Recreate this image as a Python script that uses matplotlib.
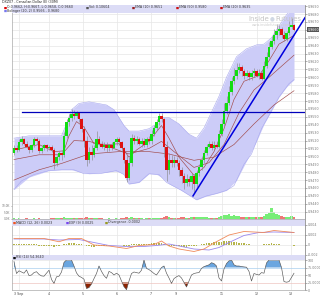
import matplotlib
matplotlib.use("Agg")
import matplotlib.pyplot as plt  # noqa: E402
import matplotlib.transforms as mtransforms  # noqa: E402
from matplotlib.patches import Rectangle  # noqa: E402
import numpy as np  # noqa: E402

# ---- data (prices in 1/10000, i.e. 9511 = 0.9511) ----
opens = [9504, 9511, 9508, 9518, 9522, 9516, 9512, 9508, 9514, 9522,
         9519, 9507, 9511, 9514, 9511, 9512, 9508, 9492, 9499, 9504,
         9502, 9526, 9543, 9549, 9553, 9551, 9555, 9547, 9535, 9519,
         9496, 9506, 9502, 9511, 9522, 9516, 9512, 9515, 9510, 9514,
         9511, 9518, 9522, 9518, 9510, 9496, 9472, 9492, 9523, 9519,
         9522, 9516, 9520, 9515, 9522, 9519, 9528, 9536, 9543, 9551,
         9547, 9512, 9483, 9495, 9491, 9496, 9492, 9483, 9475, 9466,
         9471, 9467, 9475, 9465, 9479, 9486, 9496, 9504, 9512, 9516,
         9511, 9515, 9512, 9528, 9541, 9557, 9568, 9581, 9595, 9602,
         9609, 9613, 9608, 9602, 9605, 9600, 9605, 9608, 9602, 9606,
         9598, 9614, 9626, 9638, 9646, 9653, 9658, 9661, 9653, 9649,
         9656, 9663, 9666]
closes = [9511, 9508, 9518, 9522, 9516, 9512, 9508, 9514, 9522, 9519,
          9507, 9511, 9514, 9511, 9512, 9508, 9492, 9499, 9504, 9502,
          9526, 9543, 9549, 9553, 9551, 9555, 9547, 9535, 9519, 9496,
          9506, 9502, 9511, 9522, 9516, 9512, 9515, 9510, 9514, 9511,
          9518, 9522, 9518, 9510, 9496, 9472, 9492, 9523, 9519, 9522,
          9516, 9520, 9515, 9522, 9519, 9528, 9536, 9543, 9551, 9547,
          9512, 9483, 9495, 9491, 9496, 9492, 9483, 9475, 9466, 9471,
          9467, 9475, 9465, 9479, 9486, 9496, 9504, 9512, 9516, 9511,
          9515, 9512, 9528, 9541, 9557, 9568, 9581, 9595, 9602, 9609,
          9613, 9608, 9602, 9605, 9600, 9605, 9608, 9602, 9606, 9598,
          9614, 9626, 9638, 9646, 9653, 9658, 9661, 9653, 9649, 9656,
          9663, 9666, 9660]
highs = [9515, 9514, 9522, 9526, 9523, 9519, 9515, 9516, 9524, 9524,
         9522, 9514, 9516, 9516, 9515, 9515, 9510, 9502, 9507, 9508,
         9531, 9547, 9553, 9560, 9559, 9557, 9556, 9549, 9538, 9526,
         9512, 9515, 9515, 9532, 9526, 9520, 9518, 9518, 9516, 9518,
         9520, 9524, 9524, 9520, 9512, 9502, 9499, 9528, 9527, 9526,
         9524, 9523, 9523, 9524, 9526, 9533, 9540, 9547, 9555, 9555,
         9549, 9519, 9504, 9502, 9500, 9499, 9495, 9487, 9479, 9478,
         9475, 9479, 9478, 9483, 9490, 9500, 9508, 9516, 9520, 9519,
         9519, 9519, 9533, 9547, 9568, 9576, 9589, 9600, 9612, 9618,
         9618, 9616, 9610, 9609, 9608, 9609, 9612, 9610, 9610, 9609,
         9621, 9632, 9645, 9652, 9661, 9667, 9666, 9663, 9658, 9658,
         9671, 9675, 9668]
lows = [9502, 9506, 9507, 9515, 9514, 9510, 9504, 9506, 9512, 9516,
        9504, 9504, 9508, 9507, 9508, 9506, 9484, 9488, 9495, 9495,
        9499, 9523, 9539, 9545, 9547, 9548, 9544, 9531, 9512, 9488,
        9492, 9496, 9499, 9508, 9514, 9510, 9508, 9506, 9507, 9508,
        9510, 9515, 9514, 9506, 9492, 9467, 9470, 9488, 9516, 9516,
        9514, 9512, 9512, 9512, 9516, 9516, 9526, 9533, 9540, 9543,
        9499, 9469, 9478, 9486, 9487, 9488, 9475, 9466, 9459, 9462,
        9462, 9459, 9455, 9461, 9475, 9483, 9492, 9502, 9510, 9508,
        9508, 9510, 9510, 9526, 9539, 9553, 9565, 9577, 9592, 9598,
        9605, 9602, 9598, 9600, 9597, 9597, 9601, 9600, 9598, 9596,
        9596, 9612, 9624, 9636, 9642, 9649, 9654, 9650, 9646, 9646,
        9653, 9661, 9658]
volume_k = [0.4, 0.3, 0.5, 0.3, 0.2, 0.4, 0.3, 0.3, 0.5, 0.3, 0.6, 0.3, 0.2, 0.3, 0.2, 0.4,
            1.0, 0.6, 0.4, 0.5, 1.2, 1.0, 0.8, 0.7, 0.5, 0.6, 0.5, 0.7, 0.9,
            1.2, 0.8, 0.6, 0.5, 0.8, 0.6, 0.4, 0.3, 0.3, 0.4, 0.3, 0.3, 0.4, 0.3, 0.5, 0.9,
            1.5, 1.0, 1.2, 0.6, 0.5, 0.4, 0.4, 0.3, 0.4, 0.5, 0.6, 0.7, 0.6, 0.8, 0.7,
            1.8, 2.0, 1.2, 0.8, 0.7, 0.6, 1.0, 1.3, 1.5, 1.0, 0.9, 1.2, 1.4, 1.6, 1.3, 1.5,
            1.4, 1.2, 1.0, 0.9, 1.0, 0.8, 1.6, 2.0, 2.8, 3.0, 3.6, 2.6, 3.2, 2.4, 2.0,
            1.6, 1.8, 1.2, 1.5, 1.4, 1.2, 1.6, 1.3, 1.5, 2.4, 3.5, 4.8, 8.8, 5.2, 3.6,
            2.8, 2.0, 1.6, 1.5, 1.8, 2.2, 1.4]

bb_upper_idx = [0, 6, 14, 19, 21, 23, 26, 30, 37, 40, 42, 44, 46, 50, 54, 57, 59, 62,
                66, 70, 73, 76, 79, 82, 85, 89, 93, 97, 100, 103, 106, 109, 112]
bb_upper = [9523, 9526, 9526, 9526, 9541, 9559, 9567, 9569, 9565, 9559, 9549, 9539,
            9532, 9532, 9535, 9541, 9549, 9549, 9541, 9528, 9523, 9536, 9556, 9576,
            9600, 9626, 9636, 9641, 9642, 9650, 9665, 9679, 9690]
bb_lower_idx = [0, 3, 8, 14, 19, 24, 28, 34, 41, 44, 46, 50, 54, 58, 61, 67, 73, 77,
                81, 85, 88, 92, 95, 99, 102, 106, 110, 112]
bb_lower = [9458, 9469, 9477, 9482, 9483, 9483, 9478, 9478, 9482, 9477, 9465, 9467,
            9478, 9477, 9467, 9457, 9445, 9450, 9453, 9457, 9463, 9490, 9503, 9535,
            9552, 9575, 9592, 9597]

ema10_idx = [0, 10, 16, 20, 22, 25, 28, 32, 38, 42, 46, 49, 54, 59, 62, 66, 72, 76,
             80, 84, 88, 92, 98, 102, 106, 112]
ema10 = [9508, 9515, 9506, 9507, 9526, 9544, 9537, 9516, 9515, 9516, 9499, 9508, 9519,
         9539, 9523, 9499, 9476, 9486, 9506, 9535, 9572, 9595, 9602, 9621, 9642, 9653]
ema20_idx = [0, 10, 19, 24, 30, 38, 46, 54, 59, 64, 72, 78, 84, 90, 96, 102, 112]
ema20 = [9496, 9502, 9502, 9520, 9519, 9512, 9503, 9510, 9519, 9506, 9486, 9492, 9515,
         9555, 9584, 9600, 9628]
ema50_idx = [0, 10, 19, 30, 42, 54, 62, 72, 80, 88, 96, 104, 112]
ema50 = [9470, 9483, 9491, 9503, 9506, 9506, 9503, 9495, 9499, 9515, 9541, 9565, 9583]

# support level and trend line
level_price = 0.9556
level_start = 3.2
trend_x = [71.6, 116.4]
trend_y = [0.9450, 0.96754]

# MACD (12, 26), EXP (9), divergence
macd_idx = [0, 12, 18, 22, 27, 32, 38, 45, 50, 56, 59, 62, 66, 72, 76, 80, 86, 92,
            96, 100, 104, 112]
macd = [0.00122, 0.0012, 0.00055, 0.0012, 0.0012, -0.0001, -0.0003, -0.0008, -0.0002,
        0.0, 0.0007, -0.0003, -0.0009, -0.0014, -0.0009, 0.0003, 0.0019, 0.0026,
        0.0025, 0.0024, 0.0028, 0.0024]
signal_idx = [0, 12, 18, 26, 32, 38, 45, 52, 57, 62, 66, 72, 78, 82, 86, 92, 98, 104, 112]
signal = [0.0011, 0.0011, 0.0009, 0.001, 0.0004, -0.0002, -0.0004, -0.0004, -0.0002,
          0.0001, -0.0003, -0.0009, -0.0011, -0.0006, 0.0004, 0.0018, 0.0024, 0.0025,
          0.0024]
divergence = [0.0001] * 10 + [
    -0.0002, -0.0003, -0.0003, -0.0002, -0.0002, -0.0003, -0.0004, -0.0003, -0.0002, -0.0001,
    0.0001, 0.0002, 0.0003, 0.0003, 0.0003, 0.0002, 0.0002, 0.0001, 0.0,
    -0.0002, -0.0003, -0.0004, -0.0004, -0.0003, -0.0003, -0.0002, -0.0002, -0.0002,
    -0.0001, -0.0001, -0.0001, 0.0, 0.0,
    -0.0001, -0.0002, -0.0003, -0.0002, 0.0001, 0.0002, 0.0002, 0.0002,
    0.0002, 0.0002, 0.0002, 0.0002, 0.0003, 0.0003, 0.0004, 0.0004, 0.0004, 0.0002,
    -0.0001, -0.0002, -0.0002, -0.0003, -0.0003, -0.0003, -0.0004, -0.0004, -0.0004,
    -0.0003, -0.0003, -0.0003, -0.0002, -0.0001, 0.0001,
    0.0002, 0.0003, 0.0004, 0.0004, 0.0005, 0.0005, 0.0006, 0.0006, 0.0007, 0.0007,
    0.0007, 0.0006, 0.0006, 0.0005, 0.0004, 0.0003, 0.0003, 0.0002, 0.0001, 0.0,
    0.0, -0.0001, -0.0001, 0.0, 0.0001, 0.0002, 0.0002, 0.0003, 0.0002, 0.0001, 0.0001,
    0.0, -0.0001, -0.0001, -0.0001, -0.0001, -0.0002]

rsi = [95, 55, 64, 60, 56, 67, 48, 50, 58, 61, 52, 47, 46, 56, 66, 35, 22, 44, 46, 60,
       92, 100, 100, 100, 80, 57, 46, 42, 36, 5, 8, 20, 38, 55, 80, 62, 48, 39, 62, 58,
       50, 56, 50, 30, 11, 1, 30, 55, 60, 58, 56, 66, 100, 72, 68, 62, 55, 50, 62, 75,
       80, 56, 40, 22, 38, 44, 48, 40, 25, 10, 30, 50, 55, 57, 58, 72, 78, 81, 84, 91,
       88, 80, 40, 30, 70, 88, 97, 100, 84, 80, 80, 78, 77, 76, 62, 30, 55, 52, 50, 58,
       56, 90, 100, 100, 100, 100, 100, 75, 28, 26, 28, 42, 56]

day_ticks = [2.0, 14, 27.6, 41.2, 54.8, 64.8, 83.2, 97.2, 110.8]
day_labels = ["3 Sep", "4", "5", "6", "7", "9", "11", "12", "13"]
price_ticks = [0.9690 - 0.001 * k for k in range(27)]

# ---- drawing ----
P = 10000.0
o = np.array(opens) / P
c = np.array(closes) / P
h = np.array(highs) / P
lo = np.array(lows) / P
idx = np.arange(len(c))
up = c >= o

FS = 2.3
GRID = "#e6e6e6"
TXT = "#777777"
XLIM = (-0.8, 116.4)

fig = plt.figure(figsize=(3.2, 2.98), dpi=100)
fig.patch.set_facecolor("white")
L, W = 12 / 320, 293 / 320
ax = fig.add_axes([L, 1 - 219 / 298, W, 214 / 298])
axm = fig.add_axes([L, 1 - 255 / 298, W, 36 / 298])
axr = fig.add_axes([L, 1 - 290 / 298, W, 35 / 298])


def style(a):
    a.set_xlim(*XLIM)
    a.yaxis.tick_right()
    a.tick_params(axis="y", labelsize=FS, colors=TXT, length=1.2, width=0.4, pad=0.8)
    a.tick_params(axis="x", length=0, labelbottom=False)
    for s in a.spines.values():
        s.set_color("#aaaaaa")
        s.set_linewidth(0.5)
    a.spines["right"].set_color("#777777")
    a.set_xticks(day_ticks)
    a.grid(True, color=GRID, lw=0.5)
    a.set_axisbelow(True)


# volume overlay sits under the price marks (twin made first, then price axis restyled)
axv = ax.twinx()
axv.set_zorder(0)
ax.set_zorder(1)
ax.patch.set_visible(False)
axv.set_xlim(*XLIM)
axv.set_ylim(0, 164.6)
axv.bar(idx, volume_k, width=1.0, color=np.where(up, "#77ee77", "#ee7777"), lw=0)
axv.set_yticks([0, 5, 10])
axv.set_yticklabels(["0.0K", "5.0K", "10.0K"])
axv.yaxis.tick_left()
axv.tick_params(axis="y", labelsize=FS - 0.2, colors=TXT, length=1.0, width=0.4, pad=0.4)
for s in axv.spines.values():
    s.set_visible(False)

# main price panel
style(ax)
ax.set_ylim(0.942077, 0.969146)
ax.set_yticks(price_ticks)
ax.set_yticklabels([f"{p:.4f}" for p in price_ticks])

upper = np.array(bb_upper) / P
lower_i = np.interp(bb_upper_idx, bb_lower_idx, np.array(bb_lower) / P)
ax.fill_between(bb_upper_idx, lower_i, upper, color="#ccccf8", lw=0, zorder=1)
ax.plot(bb_upper_idx, upper, color="#a8a8ee", lw=0.4, zorder=1)
ax.plot(bb_lower_idx, np.array(bb_lower) / P, color="#a8a8ee", lw=0.4, zorder=1)

for xi, yi in ((ema50_idx, ema50), (ema20_idx, ema20), (ema10_idx, ema10)):
    ax.plot(xi, np.array(yi) / P, color="#a04848", lw=0.45, zorder=2)

ax.vlines(idx, lo, h, color="#8a8a8a", lw=0.45, zorder=3)
body = np.where(np.abs(c - o) < 0.00005, 0.00005, c - o)
ax.bar(idx, body, bottom=o, width=1.0,
       color=np.where(up, "#11dd11", "#dd1111"), lw=0, zorder=4)

ax.plot([level_start, XLIM[1]], [level_price, level_price], color="#0000bb", lw=0.9, zorder=5)
ax.plot(trend_x, trend_y, color="#0000dd", lw=1.1, zorder=5)

# legend band of main panel
ax.add_patch(Rectangle((0, 1 - 8 / 214), 1, 8 / 214, transform=ax.transAxes,
                       facecolor="#dcdcf6", edgecolor="none", zorder=6))

# current price marker on the axis
trans = mtransforms.blended_transform_factory(ax.transAxes, ax.transData)
ax.text(1.008, c[-1], f"{c[-1]:.4f}", transform=trans, fontsize=FS, color="white",
        va="center", ha="left", zorder=8,
        bbox=dict(boxstyle="square,pad=0.15", fc="#555555", ec="none"))

# MACD panel
style(axm)
axm.set_ylim(-0.0021, 0.0051)
axm.set_yticks([-0.002, 0, 0.002, 0.004])
axm.set_yticklabels(["-0.002", "0", "0.002", "0.004"])
axm.bar(idx, divergence, width=0.6, color="#b5b54a", lw=0)
axm.plot(signal_idx, signal, color="#9a88ee", lw=0.6)
axm.plot(macd_idx, macd, color="#f08a5a", lw=0.6)
axm.add_patch(Rectangle((0, 1 - 7 / 36), 1, 7 / 36, transform=axm.transAxes,
                        facecolor="#dcdcf6", edgecolor="none", zorder=6))

# RSI panel
style(axr)
axr.set_ylim(0, 116.7)
axr.set_yticks([0, 25, 50, 75, 100])
axr.set_yticklabels(["0", "25.0000", "50", "75.0000", "100"])
axr.grid(False, axis="y")
axr.axhline(75, color="#a9cfee", lw=0.5)
axr.axhline(25, color="#eec5c0", lw=0.5)
axr.axhline(50, color=GRID, lw=0.5)
axr.axhline(100, color=GRID, lw=0.5)
r = np.array(rsi, dtype=float)
axr.fill_between(idx, 75, r, where=r > 75, interpolate=True, color="#6aa6e0", lw=0)
axr.fill_between(idx, 25, r, where=r < 25, interpolate=True, color="#8e2200", lw=0)
axr.plot(idx, r, color="#555555", lw=0.45)
axr.add_patch(Rectangle((0, 1 - 5 / 35), 1, 5 / 35, transform=axr.transAxes,
                        facecolor="#dcdcf6", edgecolor="none", zorder=6))
axr.tick_params(axis="x", labelbottom=True, labelsize=FS, colors="#444444", pad=1.5)
axr.set_xticklabels(day_labels)


# texts
def ftext(x, y, s, color="#333333", size=FS, **kw):
    fig.text(x / 320, 1 - y / 298, s, fontsize=size, color=color, va="center", **kw)


def item(x, y, sq, s):
    ftext(x, y, "\u25a0", color=sq, size=FS)
    ftext(x + 3, y, s)


ftext(2, 2.4, "DXZ07 - Canadian Dollar (E) (30M)", color="#222222")
item(4, 7.5, "#dd0000", "O:0.9662, H:0.9667, L:0.9658, C:0.9660")
item(86, 7.5, "#555555", "Vol: 0.10604")
item(132, 7.5, "#992222", "EMA (10) 0.9651")
item(176, 7.5, "#cc1111", "EMA (50) 0.9580")
item(220, 7.5, "#cc1111", "EMA (20) 0.9635")
item(4, 11, "#7777ee", "Bolinger (20, 2) 0.9566 - 0.9680")
item(13, 222.5, "#ee5522", "MACD (12, 26) 0.0023")
item(66, 222.5, "#7744ee", "EXP (9) 0.0025")
item(105, 222.5, "#999922", "Divergence -0.0002")
item(13, 257.5, "#111111", "RSI (14) 54.3640")

ftext(248, 19, "Inside", color="#c4c4c4", size=5.0)
ftext(269.5, 19, "\u25cf", color="#d0d8e4", size=4.0)
ftext(275, 19, "Futures", color="#c4c4c4", size=5.0)
ftext(252, 25, "www.insidefutures.com", color="#cccccc", size=2.4)

fig.savefig("out.png", dpi=100, facecolor="white")
